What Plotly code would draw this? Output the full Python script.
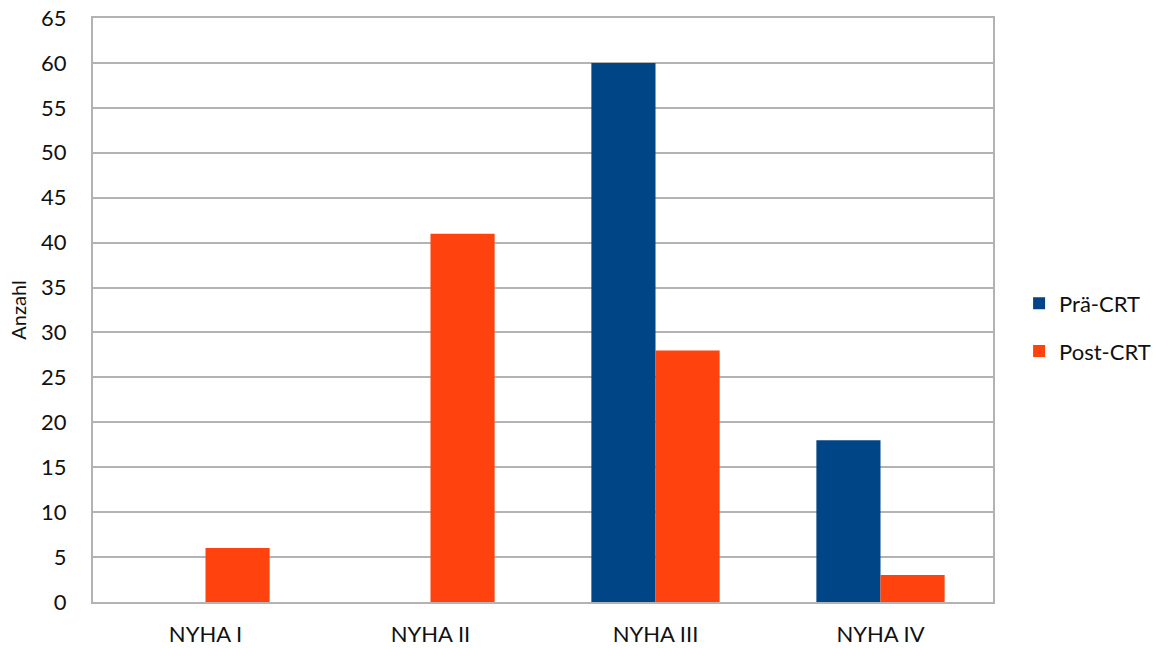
import plotly.graph_objects as go

categories = ["NYHA I", "NYHA II", "NYHA III", "NYHA IV"]
pre_crt = [0, 0, 60, 18]
post_crt = [6, 41, 28, 3]
y_ticks = list(range(0, 70, 5))

FONT = "Lato, Carlito, 'Noto Sans', sans-serif"
GRID = "#b3b3b3"

fig = go.Figure()
fig.add_trace(go.Bar(name="Prä-CRT", x=categories, y=pre_crt,
                     marker=dict(color="#004586", line=dict(width=0)),
                     legendgroup="a"))
fig.add_trace(go.Bar(name="Post-CRT", x=categories, y=post_crt,
                     marker=dict(color="#ff420e", line=dict(width=0)),
                     legendgroup="b"))

fig.update_layout(
    width=1159, height=648,
    margin=dict(l=93, r=166, t=18, b=46, autoexpand=False),
    paper_bgcolor="white", plot_bgcolor="white",
    barmode="group", bargap=0.43, bargroupgap=0,
    font=dict(family=FONT, size=22, color="#111111"),
    showlegend=True,
    legend=dict(x=1.029, y=0.47, xanchor="left", yanchor="middle",
                traceorder="grouped", tracegroupgap=16,
                font=dict(size=22), itemwidth=30),
    xaxis=dict(showline=True, linecolor=GRID, linewidth=2, mirror=True,
               showgrid=False, ticks="", ticklabelstandoff=12,
               automargin=False),
    yaxis=dict(range=[0, 65], tickvals=y_ticks, showline=True, linecolor=GRID,
               linewidth=2, mirror=True, showgrid=True, gridcolor=GRID,
               gridwidth=1.5, zeroline=False, ticks="", ticklabelstandoff=20,
               automargin=False,
               title=dict(text="Anzahl", font=dict(size=20), standoff=9)),
)

fig.write_html("out.html")
